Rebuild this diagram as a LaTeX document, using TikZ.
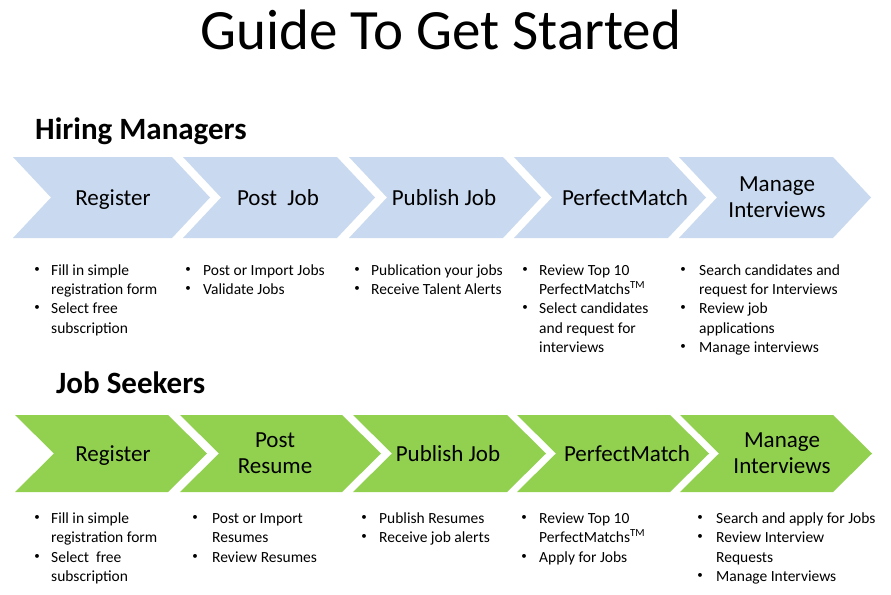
\documentclass[tikz,border=0pt]{standalone}
\usepackage{fontspec}
\setmainfont{Carlito}
\definecolor{hmblue}{HTML}{C9D9EF}
\definecolor{jsgreen}{HTML}{92D050}
\newcommand\chevshape[6]{%
  \fill[#1] (#2,#4) -- (#3,#4) -- ({#3+#6},{(#4+#5)/2}) -- (#3,#5) -- (#2,#5) -- ({#2+#6},{(#4+#5)/2}) -- cycle;}
\newcommand\bdotat[3]{\node[bdot] (#3) at (#1,{#2-4.6}) {•};}
\newcommand\bline[4]{\node[btext] (#4) at (#1,#2) {#3};}
\begin{document}
\begin{tikzpicture}[x=1pt,y=-1pt,
  titletext/.style={font=\fontsize{57}{60}\selectfont, anchor=base, inner sep=0pt},
  headtext/.style={font=\bfseries\fontsize{31}{34}\selectfont, anchor=base west, inner sep=0pt},
  chevlabel/.style={font=\fontsize{23}{26}\selectfont, anchor=base, inner sep=0pt},
  btext/.style={font=\fontsize{15.5}{19.3}\selectfont, anchor=base west, inner sep=0pt},
  bdot/.style={font=\fontsize{11}{11}\selectfont, anchor=center, inner sep=0pt}]
\fill[white] (0,0) rectangle (891,594);
\useasboundingbox (0,0) rectangle (891,594);

% title and headings
\node[titletext] (title) at (441,50) {Guide To Get Started};
\node[headtext] (hmhead) at (35,139) {Hiring Managers};
\node[headtext] (jshead) at (56,393) {Job Seekers};

% hiring managers chevrons
\chevshape{hmblue}{13}{172}{157}{238}{38}
\chevshape{hmblue}{183}{337}{157}{238}{38}
\chevshape{hmblue}{349}{503}{157}{238}{38}
\chevshape{hmblue}{514}{668}{157}{238}{38}
\chevshape{hmblue}{679}{833}{157}{238}{38}
\node[chevlabel] (hm1) at (113,205) {Register};
\node[chevlabel] (hm2) at (278,205) {Post\ \ Job};
\node[chevlabel] (hm3) at (444,205) {Publish Job};
\node[chevlabel] (hm4) at (625,205) {PerfectMatch};
\node[chevlabel] (hm5a) at (777,191) {Manage};
\node[chevlabel] (hm5b) at (777,217) {Interviews};

% job seekers chevrons
\chevshape{jsgreen}{15}{168}{415}{492}{39}
\chevshape{jsgreen}{180}{342}{415}{492}{39}
\chevshape{jsgreen}{353}{507}{415}{492}{39}
\chevshape{jsgreen}{517}{670}{415}{492}{39}
\chevshape{jsgreen}{680}{833}{415}{492}{39}
\node[chevlabel] (js1) at (113,461) {Register};
\node[chevlabel] (js2a) at (275,447) {Post};
\node[chevlabel] (js2b) at (275,473) {Resume};
\node[chevlabel] (js3) at (448,461) {Publish Job};
\node[chevlabel] (js4) at (627,461) {PerfectMatch};
\node[chevlabel] (js5a) at (782,447) {Manage};
\node[chevlabel] (js5b) at (782,473) {Interviews};

% hiring managers bullets
\bdotat{37}{275}{hb11}\bline{51}{275}{Fill in simple}{ht11}
\bline{51}{294}{registration form}{ht12}
\bdotat{37}{313}{hb12}\bline{51}{313}{Select free}{ht13}
\bline{51}{333}{subscription}{ht14}

\bdotat{188}{275}{hb21}\bline{203}{275}{Post or Import Jobs}{ht21}
\bdotat{188}{294}{hb22}\bline{203}{294}{Validate Jobs}{ht22}

\bdotat{357}{275}{hb31}\bline{371}{275}{Publication your jobs}{ht31}
\bdotat{357}{294}{hb32}\bline{371}{294}{Receive Talent Alerts}{ht32}

\bdotat{525}{275}{hb41}\bline{539}{275}{Review Top 10}{ht41}
\bline{539}{294}{PerfectMatchs\textsuperscript{TM}}{ht42}
\bdotat{525}{313}{hb42}\bline{539}{313}{Select candidates}{ht43}
\bline{539}{333}{and request for}{ht44}
\bline{539}{352}{interviews}{ht45}

\bdotat{683}{275}{hb51}\bline{699}{275}{Search candidates and}{ht51}
\bline{699}{294}{request for Interviews}{ht52}
\bdotat{683}{313}{hb52}\bline{699}{313}{Review job}{ht53}
\bline{699}{333}{applications}{ht54}
\bdotat{683}{352}{hb53}\bline{699}{352}{Manage interviews}{ht55}

% job seekers bullets
\bdotat{37}{523}{jb11}\bline{51}{523}{Fill in simple}{jt11}
\bline{51}{542}{registration form}{jt12}
\bdotat{37}{562}{jb12}\bline{51}{562}{Select\ \ free}{jt13}
\bline{51}{581}{subscription}{jt14}

\bdotat{195}{523}{jb21}\bline{212}{523}{Post or Import}{jt21}
\bline{212}{542}{Resumes}{jt22}
\bdotat{195}{562}{jb22}\bline{212}{562}{Review Resumes}{jt23}

\bdotat{364}{523}{jb31}\bline{379}{523}{Publish Resumes}{jt31}
\bdotat{364}{542}{jb32}\bline{379}{542}{Receive job alerts}{jt32}

\bdotat{524}{523}{jb41}\bline{539}{523}{Review Top 10}{jt41}
\bline{539}{542}{PerfectMatchs\textsuperscript{TM}}{jt42}
\bdotat{524}{562}{jb42}\bline{539}{562}{Apply for Jobs}{jt43}

\bdotat{700}{523}{jb51}\bline{716}{523}{Search and apply for Jobs}{jt51}
\bdotat{700}{542}{jb52}\bline{716}{542}{Review Interview}{jt52}
\bline{716}{562}{Requests}{jt53}
\bdotat{700}{581}{jb53}\bline{716}{581}{Manage Interviews}{jt54}
\end{tikzpicture}
\end{document}
